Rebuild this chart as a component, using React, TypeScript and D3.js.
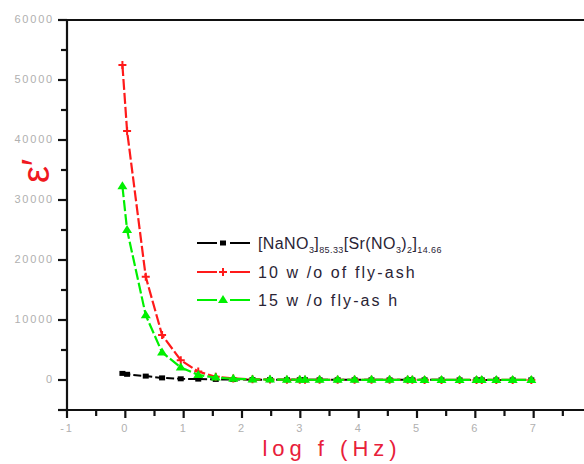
import React from "react";
import * as d3 from "d3";

const logF = [-0.05, 0.03, 0.35, 0.63, 0.95, 1.25, 1.55, 1.85, 2.18, 2.48, 2.77, 2.99, 3.08, 3.33, 3.64, 3.93, 4.22, 4.53, 4.84, 4.92, 5.13, 5.42, 5.73, 6.02, 6.11, 6.36, 6.64, 6.96];
const pureVals = [1100, 950, 650, 350, 200, 150, 100, 80, 60, 50, 40, 40, 35, 35, 30, 30, 30, 25, 25, 25, 25, 20, 20, 20, 20, 20, 20, 20];
const fly10Vals = [52500, 41500, 17200, 7500, 3300, 1400, 550, 250, 120, 80, 60, 50, 45, 40, 35, 30, 30, 25, 25, 25, 20, 20, 20, 20, 20, 20, 20, 20];
const fly15Vals = [32300, 25000, 10800, 4600, 2100, 850, 400, 200, 100, 70, 50, 45, 40, 35, 30, 30, 25, 25, 25, 20, 20, 20, 20, 20, 20, 20, 20, 20];
const xTicks = [-1, 0, 1, 2, 3, 4, 5, 6, 7, 8];
const yTicks = [0, 10000, 20000, 30000, 40000, 50000, 60000];

const W = 584, H = 464;
const x = d3.scaleLinear().domain([-1, 8]).range([67, 592]);
const y = d3.scaleLinear().domain([-5000, 60000]).range([410, 20]);

const line = d3.line<[number, number]>().x(d => x(d[0])).y(d => y(d[1]));

const RED = "#ff1a1a";
const GREEN = "#00f000";
const GRAY = "#b0b0b0";

function Square({ cx, cy }: { cx: number; cy: number }) {
  return <rect x={cx - 3} y={cy - 2.5} width={6} height={5} fill="#000" />;
}
function Plus({ cx, cy }: { cx: number; cy: number }) {
  return <path d={`M${cx - 4},${cy}H${cx + 4}M${cx},${cy - 4}V${cy + 4}`} stroke={RED} strokeWidth={2} />;
}
function Tri({ cx, cy }: { cx: number; cy: number }) {
  return <path d={`M${cx},${cy - 5}L${cx + 5},${cy + 3}L${cx - 5},${cy + 3}Z`} fill={GREEN} />;
}

export default function App() {
  const ser = (vals: number[]) => logF.map((v, i) => [v, vals[i]] as [number, number]);
  const minorX = d3.range(-0.5, 8, 1);
  const minorY = d3.range(5000, 60000, 10000);
  const legendRows = [
    { y: 243, color: "#000", kind: "sq" },
    { y: 272, color: RED, kind: "plus" },
    { y: 300, color: GREEN, kind: "tri" },
  ];
  const txt = { fontFamily: "Liberation Sans, Arial, sans-serif", fontSize: 16, letterSpacing: 2.1, fill: "#2a2435" } as React.CSSProperties;
  const txt1 = { ...txt, letterSpacing: 0.4 } as React.CSSProperties;
  return (
    <svg width={W} height={H} style={{ position: "absolute", left: 0, top: 0, background: "#fff" }}>
      {/* data */}
      <path d={line(ser(pureVals)) || ""} fill="none" stroke="#000" strokeWidth={2} strokeDasharray="8,3" />
      {ser(pureVals).map((d, i) => <Square key={i} cx={x(d[0])} cy={y(d[1])} />)}
      <path d={line(ser(fly10Vals)) || ""} fill="none" stroke={RED} strokeWidth={2.2} strokeDasharray="11,3" />
      {ser(fly10Vals).map((d, i) => <Plus key={i} cx={x(d[0])} cy={y(d[1])} />)}
      <path d={line(ser(fly15Vals)) || ""} fill="none" stroke={GREEN} strokeWidth={2.2} strokeDasharray="11,3" />
      {ser(fly15Vals).map((d, i) => <Tri key={i} cx={x(d[0])} cy={y(d[1])} />)}

      {/* axes */}
      <g stroke="#111" strokeWidth={2.2}>
        <line x1={x(-1)} x2={x(-1)} y1={y(60000)} y2={y(-5000)} />
        <line x1={x(-1)} x2={x(8)} y1={y(-5000)} y2={y(-5000)} />
        <line x1={x(-1)} x2={x(8)} y1={y(60000)} y2={y(60000)} />
        <line x1={x(8)} x2={x(8)} y1={y(60000)} y2={y(-5000)} />
        {yTicks.map(t => <line key={"yt" + t} x1={x(-1) - 9} x2={x(-1)} y1={y(t)} y2={y(t)} />)}
        {minorY.map(t => <line key={"ym" + t} x1={x(-1) - 6} x2={x(-1)} y1={y(t)} y2={y(t)} />)}
        <line x1={x(-1) - 9} x2={x(-1)} y1={y(-5000)} y2={y(-5000)} />
        {xTicks.map(t => <line key={"xt" + t} x1={x(t)} x2={x(t)} y1={y(-5000)} y2={y(-5000) + 8} />)}
        {minorX.map(t => <line key={"xm" + t} x1={x(t)} x2={x(t)} y1={y(-5000)} y2={y(-5000) + 6} />)}
      </g>
      <g fontFamily="Liberation Sans, Arial, sans-serif" fontSize={11} fill={GRAY} style={{ letterSpacing: 1.8 }}>
        {yTicks.map(t => (
          <text key={t} x={x(-1) - 13} y={y(t)} textAnchor="end" dominantBaseline="middle">{t}</text>
        ))}
        {xTicks.map(t => (
          <text key={t} x={x(t)} y={y(-5000) + 22} textAnchor="middle">{t < 0 ? "-" + Math.abs(t) : t}</text>
        ))}
      </g>

      {/* axis titles */}
      <text x={332} y={456} textAnchor="middle" fill="#e8203a" fontFamily="Liberation Sans, Arial, sans-serif" fontSize={22} style={{ letterSpacing: 5 }}>log f (Hz)</text>
      <text transform="translate(49,171) rotate(-90)" textAnchor="middle" fill="#f01820" fontFamily="Liberation Sans, Arial, sans-serif" fontSize={38}>ε′</text>

      {/* legend */}
      {legendRows.map((r, i) => (
        <g key={i}>
          <line x1={197} x2={217} y1={r.y} y2={r.y} stroke={r.color} strokeWidth={2} />
          <line x1={230} x2={250} y1={r.y} y2={r.y} stroke={r.color} strokeWidth={2} />
          {r.kind === "sq" && <Square cx={223} cy={r.y} />}
          {r.kind === "plus" && <Plus cx={223} cy={r.y} />}
          {r.kind === "tri" && <Tri cx={223} cy={r.y} />}
        </g>
      ))}
      <text x={258} y={249} style={txt1}>
        [NaNO<tspan fontSize={9} dy={4}>3</tspan><tspan dy={-4}>]</tspan><tspan fontSize={9} dy={4}>85.33</tspan><tspan dy={-4}>[Sr(NO</tspan><tspan fontSize={9} dy={4}>3</tspan><tspan dy={-4}>)</tspan><tspan fontSize={9} dy={4}>2</tspan><tspan dy={-4}>]</tspan><tspan fontSize={9} dy={4}>14.66</tspan>
      </text>
      <text x={258} y={278} style={txt}>10 w /o of fly-ash</text>
      <text x={258} y={306} style={txt}>15 w /o fly-as h</text>
    </svg>
  );
}
